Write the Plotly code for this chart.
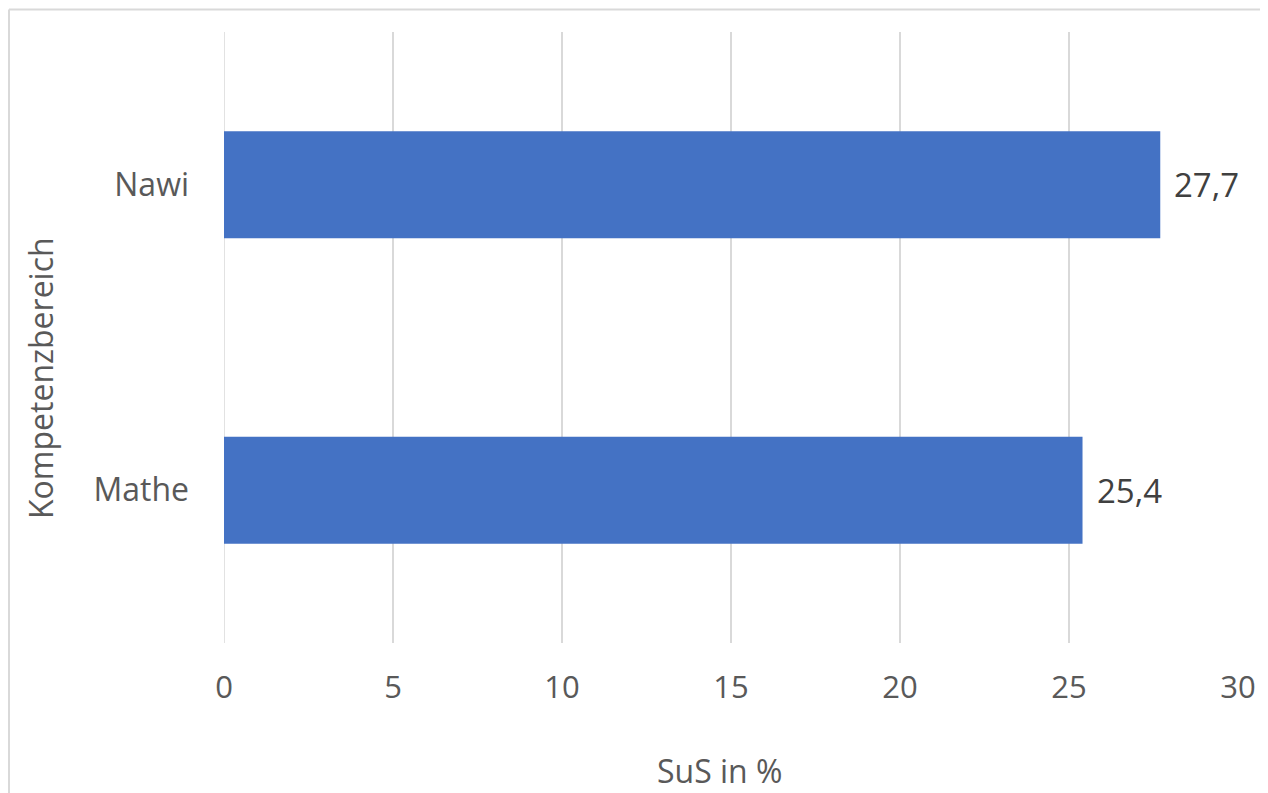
import plotly.graph_objects as go

categories = ["Mathe", "Nawi"]
values = [25.4, 27.7]
x_ticks = [0, 5, 10, 15, 20, 25, 30]

# page has an 8px body margin; figure origin sits at page (8, 8)
OFF = 8
W, H = 1260, 785
L, R, T, B = 224 - OFF, 30, 32 - OFF, 150
pw, ph = W - L - R, H - T - B

def px(x):
    return (x - OFF - L) / pw

def py(y):
    return (H - B - (y - OFF)) / ph

fig = go.Figure(go.Bar(
    y=categories, x=values, orientation="h",
    marker=dict(color="#4472C4", line=dict(width=0)),
    width=0.35,
    hoverinfo="x+y",
))

annotations = [
    dict(x=v, y=c, xref="x", yref="y", text=f"{v:.1f}".replace(".", ","),
         showarrow=False, xanchor="left", yanchor="middle", xshift=12,
         font=dict(size=33, color="#404040"))
    for c, v in zip(categories, values)
]
annotations += [
    dict(text="SuS in %", xref="paper", yref="paper", x=px(720), y=py(770),
         showarrow=False, font=dict(size=32, color="#595959"), xanchor="center", yanchor="middle"),
    dict(text="Kompetenzbereich", xref="paper", yref="paper", x=px(40), y=py(378),
         showarrow=False, textangle=-90, font=dict(size=32, color="#595959"),
         xanchor="center", yanchor="middle"),
]

frame = dict(color="#d9d9d9", width=2)

fig.update_layout(
    width=W, height=H,
    margin=dict(l=L, r=R, t=T, b=B),
    paper_bgcolor="white", plot_bgcolor="white",
    font=dict(family="Open Sans", color="#595959", size=31),
    separators=",.",
    showlegend=False,
    xaxis=dict(range=[0, 30], tickvals=x_ticks, showgrid=True, gridcolor="#d9d9d9",
               gridwidth=1.5, zeroline=False, showline=False, ticks="",
               ticklabelstandoff=23, tickfont=dict(size=31, color="#595959")),
    yaxis=dict(showgrid=False, zeroline=False, showline=False, ticks="",
               ticklabelstandoff=34, tickfont=dict(size=32, color="#595959")),
    shapes=[dict(type="line", xref="paper", yref="paper",
                 x0=px(9), x1=px(1300), y0=py(9.5), y1=py(9.5), line=frame, layer="below"),
            dict(type="line", xref="paper", yref="paper",
                 x0=px(9), x1=px(9), y0=py(9.5), y1=py(830), line=frame, layer="below"),
            dict(type="line", xref="x", yref="paper", x0=0, x1=0, y0=0, y1=1,
                 line=dict(color="#d9d9d9", width=1.5), layer="below")],
    annotations=annotations,
)

fig.write_html("out.html")
